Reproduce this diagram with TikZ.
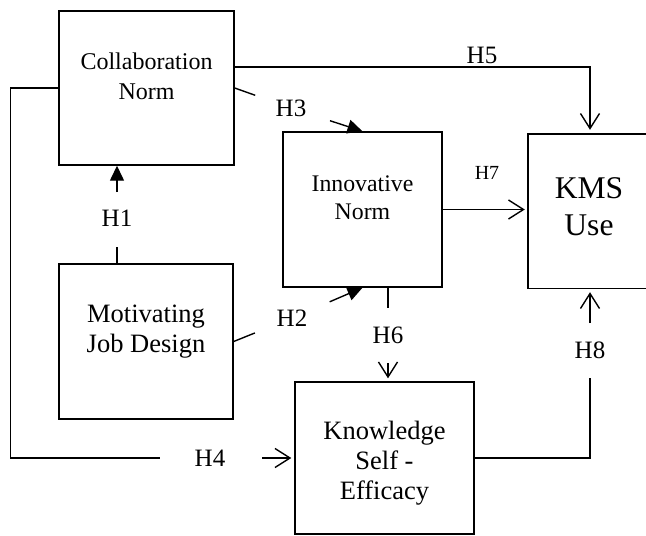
\documentclass[tikz,border=0pt]{standalone}
\usepackage{fontspec}
\setmainfont{Liberation Serif}
\usetikzlibrary{arrows.meta}

\begin{document}
\begin{tikzpicture}[x=1pt, y=-1pt,
    box/.style={draw, line width=1.4pt, inner sep=0pt},
    txt/.style={align=center},
    lbl/.style={font=\fontsize{25}{30}\selectfont, inner sep=0pt},
    ln/.style={line width=1.4pt},
    tipfill/.style={ln, -{Triangle[length=15pt,width=14pt]}},
    tipopen/.style={ln, -{Straight Barb[length=15pt,width=19pt]}}
]
\useasboundingbox (0,0) rectangle (646,536);

% Constructs
\node[box, minimum width=175pt, minimum height=154pt,
      label={[txt, yshift=12pt, font=\fontsize{24}{30}\selectfont]center:Collaboration\\Norm}]
      (collab) at (146.5,88) {};
\node[box, minimum width=174pt, minimum height=155pt,
      label={[txt, yshift=10pt, font=\fontsize{26.5}{30}\selectfont]center:Motivating\\Job Design}]
      (motiv) at (146,341.5) {};
\node[box, minimum width=159pt, minimum height=155pt,
      label={[txt, yshift=12pt, font=\fontsize{23.8}{28}\selectfont]center:Innovative\\Norm}]
      (innov) at (362.5,209.5) {};
\node[box, minimum width=179pt, minimum height=152pt,
      label={[txt, yshift=-5pt, font=\fontsize{26.5}{30}\selectfont]center:Knowledge\\Self -\\Efficacy}]
      (know) at (384.5,458) {};
\node[minimum width=118pt, minimum height=154pt, inner sep=0pt,
      label={[txt, xshift=2pt, yshift=4pt, font=\fontsize{31.6}{37}\selectfont]center:KMS\\Use}]
      (kms) at (587,211) {};
\draw[ln] (kms.north east) -- (kms.north west) -- (kms.south west) -- (kms.south east);

% Hypotheses
\node[lbl] (h1) at (117,218) {H1};
\node[lbl] (h2) at (292,318) {H2};
\node[lbl] (h3) at (291,108) {H3};
\node[lbl] (h4) at (210,458) {H4};
\node[lbl] (h5) at (482,55) {H5};
\node[lbl] (h6) at (388,335) {H6};
\node[lbl, font=\fontsize{20}{24}\selectfont] (h7) at (487,173) {H7};
\node[lbl] (h8) at (590,350) {H8};

% Paths
\draw[ln, shorten >=29pt] (h1 |- motiv.north) -- (h1.center);
\draw[tipfill, shorten <=26pt] (h1.center) -- (h1 |- collab.south);

\draw[ln, shorten >=40pt] (motiv.east) -- (h2.center);
\draw[tipfill, shorten <=41pt] (h2.center) -- (innov.south);

\draw[ln, shorten >=38pt] (collab.east) -- (h3.center);
\draw[tipfill, shorten <=41pt] (h3.center) -- (innov.north);

\draw[ln, shorten >=50pt] (collab.west) -- ++(-48,0) |- (h4.center);
\draw[tipopen, shorten <=52pt, shorten >=3pt] (h4.center) -- (know.west);

\draw[tipopen, shorten >=4pt] ([yshift=21pt]collab.east) -| ([xshift=3pt]kms.north);

\draw[ln, shorten >=27pt] (h6 |- innov.south) -- (h6.center);
\draw[tipopen, shorten <=28pt, shorten >=3pt] (h6.center) -- (h6 |- know.north);

\draw[tipopen, shorten >=3pt] (innov.east) -- (innov.east -| kms.west);

\draw[ln, shorten >=28pt] (know.east) -| (h8.center);
\draw[tipopen, shorten <=27pt, shorten >=4pt] (h8.center) -- (h8 |- kms.south);

\end{tikzpicture}
\end{document}
